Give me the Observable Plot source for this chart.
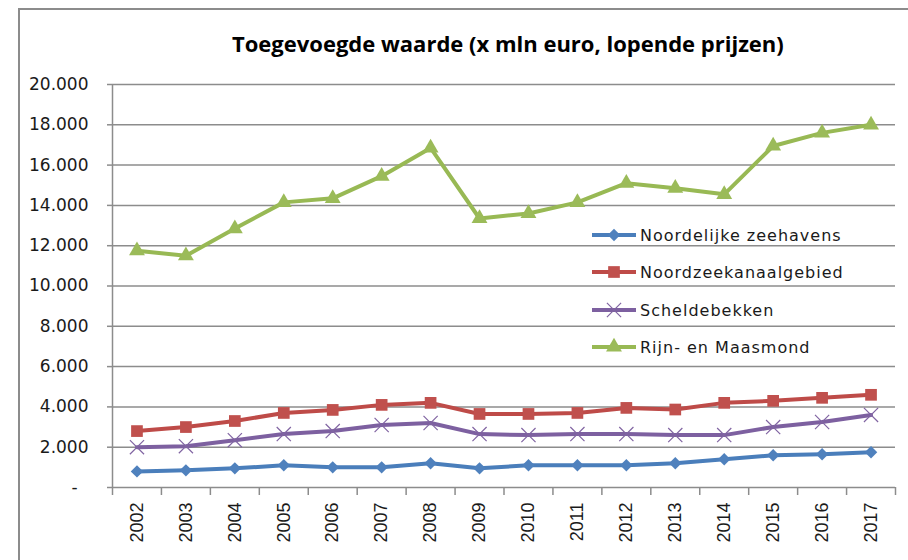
<!DOCTYPE html>
<html><head><meta charset="utf-8">
<script src="https://cdn.jsdelivr.net/npm/d3@7"></script>
<script src="https://cdn.jsdelivr.net/npm/@observablehq/plot@0.6"></script>
<style>
body{margin:0;background:#fff;}
#wrap{position:relative;width:908px;height:560px;overflow:hidden;background:#fff;}
#frame{position:absolute;left:18px;top:8px;width:1000px;height:1000px;border-left:2px solid #8c8c8c;border-top:2px solid #8c8c8c;}
#title{position:relative;height:62px;}
#title span{position:absolute;left:232px;top:28px;font:bold 22px "Open Sans";white-space:nowrap;color:#000;}
#chart{position:relative;}
#legend{position:absolute;left:592px;top:0;}
.row{position:absolute;left:0;height:20px;display:flex;align-items:center;white-space:nowrap;font:16px "DejaVu Sans";letter-spacing:1px;color:#1a1a1a}
.row svg{margin-right:4px;}
</style></head><body>
<div id="wrap"><div id="frame"></div><div id="title"><span>Toegevoegde waarde (x mln euro, lopende prijzen)</span></div><div id="chart"></div><div id="legend"></div></div>
<script>
const years = [2002,2003,2004,2005,2006,2007,2008,2009,2010,2011,2012,2013,2014,2015,2016,2017];
const noordelijkeZeehavens = [800,850,950,1100,1000,1000,1200,950,1100,1100,1100,1200,1400,1600,1650,1750];
const noordzeekanaalgebied = [2800,3000,3300,3700,3850,4100,4200,3650,3650,3700,3950,3870,4200,4300,4450,4600];
const scheldebekken = [2000,2050,2350,2650,2800,3100,3200,2650,2600,2650,2650,2600,2600,3000,3250,3600];
const rijnEnMaasmond = [11750,11500,12850,14150,14350,15450,16850,13350,13600,14150,15100,14850,14550,16950,17600,18000];
const seriesNames = ["Noordelijke zeehavens","Noordzeekanaalgebied","Scheldebekken","Rijn- en Maasmond"];
const seriesValues = [noordelijkeZeehavens, noordzeekanaalgebied, scheldebekken, rijnEnMaasmond];
const lineColors = ["#4A7EBB","#BE4B48","#7D60A0","#98B954"];
const markerColors = ["#4F81BD","#C0504D","#8064A2","#9BBB59"];
const markerSymbols = ["diamond2","square","times","triangle"];
const markerR = [5.6,6.6,6.5,5.9];
const yTicks = [0,2000,4000,6000,8000,10000,12000,14000,16000,18000,20000];

const data = [];
seriesNames.forEach((s,i) => years.forEach((y,j) => data.push({year:y, series:s, value:seriesValues[i][j]})));

const fmt = d => d === 0 ? "-\u00a0\u00a0" : d3.format(",")(d).replace(/,/g, ".");
const xBounds = years.map(y => y - 0.5).concat([years[years.length-1] + 0.5]);

const marks = [
  Plot.gridY(yTicks, {stroke:"#8c8c8c", strokeOpacity:1, strokeWidth:1.5}),
  Plot.ruleX([xBounds[0]], {stroke:"#8c8c8c", strokeWidth:1.5}),
  Plot.axisY(yTicks, {tickSize:5, tickPadding:19, tickFormat:fmt, stroke:"#8c8c8c", strokeWidth:1.5, fill:"#1a1a1a", fontSize:17, fontFamily:"DejaVu Sans", label:null}),
  Plot.axisX(xBounds, {tickSize:8, tickFormat:() => "", stroke:"#8c8c8c", strokeWidth:1.5, label:null}),
  Plot.axisX(years, {tickSize:0, tickRotate:-90, tickPadding:15, tickFormat:d => String(d), fill:"#1a1a1a", fontSize:18, fontFamily:"Liberation Sans", label:null}),
  Plot.line(data, {x:"year", y:"value", z:"series", stroke:"series", strokeWidth:4})
];
seriesNames.forEach((s,i) => {
  const sub = data.filter(d => d.series === s);
  if (markerSymbols[i] === "times") {
    marks.push(Plot.dot(sub, {x:"year", y:"value", symbol:"times", r:markerR[i], stroke:markerColors[i], strokeWidth:1.2}));
  } else {
    marks.push(Plot.dot(sub, {x:"year", y:"value", symbol:markerSymbols[i], r:markerR[i], fill:markerColors[i], stroke:"none"}));
  }
});

const plot = Plot.plot({
  width:908, height:498,
  marginTop:22, marginBottom:73, marginLeft:112, marginRight:13,
  x:{type:"linear", domain:[xBounds[0], xBounds[xBounds.length-1]]},
  y:{domain:[0,20000]},
  color:{domain:seriesNames, range:lineColors},
  style:{background:"transparent", overflow:"visible"},
  marks
});
document.getElementById("chart").appendChild(plot);

// legend
const legend = document.getElementById("legend");
const rowCenters = [235, 272, 310, 347];
seriesNames.forEach((s,i) => {
  const row = document.createElement("div");
  row.className = "row";
  row.style.top = (rowCenters[i] - 10) + "px";
  const svg = d3.create("svg").attr("width",44).attr("height",20);
  svg.append("line").attr("x1",0).attr("x2",44).attr("y1",10).attr("y2",10).attr("stroke",lineColors[i]).attr("stroke-width",4);
  const symType = {diamond2:d3.symbolDiamond2, square:d3.symbolSquare, times:d3.symbolTimes, triangle:d3.symbolTriangle}[markerSymbols[i]];
  const size = Math.PI * markerR[i] * markerR[i];
  const p = svg.append("path").attr("transform","translate(22,10)").attr("d", d3.symbol(symType, size)());
  if (markerSymbols[i] === "times") p.attr("fill","none").attr("stroke",markerColors[i]).attr("stroke-width",1.2);
  else p.attr("fill",markerColors[i]);
  row.appendChild(svg.node());
  const t = document.createElement("span");
  t.textContent = s;
  row.appendChild(t);
  legend.appendChild(row);
});
</script>
</body></html>
